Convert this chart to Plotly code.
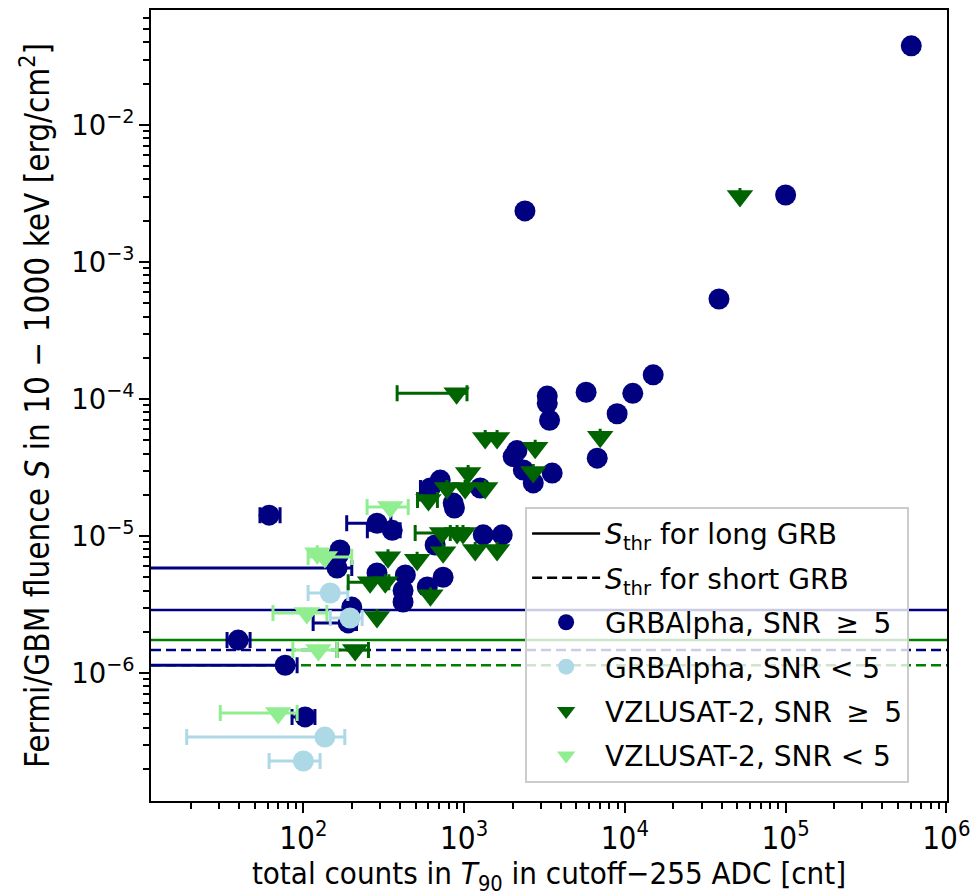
import plotly.graph_objects as go

# ---------------- data ----------------
# GRBAlpha, SNR >= 5
ga_hi_x = [6.05e5, 2390, 1.0e5, 3.85e4, 1.5e4, 1.12e4, 5740, 8950, 6730, 3290, 3290, 3400,
           3530, 2018, 2130, 2335, 2692, 710, 615, 855, 1260, 287, 357, 1315, 1726, 660,
           169, 165, 162, 287, 417, 200, 190, 39.3, 77, 102.5, 61.2, 590, 417, 431, 740, 870]
ga_hi_y = [3.78e-2, 2.36e-3, 3.08e-3, 5.37e-4, 1.50e-4, 1.1e-4, 1.12e-4, 7.8e-5, 3.7e-5, 1.05e-4, 9.3e-5, 7.0e-5,
           2.88e-5, 3.8e-5, 4.2e-5, 3.03e-5, 2.44e-5, 2.56e-5, 2.24e-5, 1.74e-5, 2.24e-5, 1.24e-5, 1.1e-5, 1.02e-5, 1.02e-5, 8.6e-6,
           7.9e-6, 7.26e-6, 5.83e-6, 5.37e-6, 3.3e-6, 3.03e-6, 2.32e-6, 1.74e-6, 1.14e-6, 4.78e-7, 1.42e-5, 4.25e-6, 4.0e-6,
           5.2e-6, 5.0e-6, 1.6e-5]
ga_hi_xlo = [6.05e5, 2390, 1.0e5, 3.85e4, 1.5e4, 1.12e4, 5740, 8950, 6730, 3290, 3290, 3400,
             3530, 2018, 2130, 2335, 2692, 710, 535, 855, 1260, 186, 250, 1315, 1726, 660,
             169, 165, 1.0, 287, 417, 200, 115, 33.5, 1.0, 85, 53.7, 590, 417, 431, 740, 870]
ga_hi_xhi = [6.05e5, 2390, 1.0e5, 3.85e4, 1.5e4, 1.12e4, 5740, 8950, 6730, 3290, 3290, 3400,
             3530, 2018, 2130, 2335, 2692, 710, 680, 855, 1260, 350, 400, 1315, 1726, 660,
             169, 165, 200, 287, 417, 200, 214, 46.6, 91.4, 118, 71.6, 590, 417, 431, 740, 870]

# GRBAlpha, SNR < 5
ga_lo_x = [147, 195, 136, 100]
ga_lo_y = [3.84e-6, 2.52e-6, 3.41e-7, 2.28e-7]
ga_lo_xlo = [107, 147, 18.8, 61.2]
ga_lo_xhi = [189, 232, 181, 127]

# VZLUSAT-2, SNR >= 5
vz_hi_x = [5.2e4, 7020, 898, 1352, 1603, 2767, 2692, 1059, 1352, 1014, 729, 904, 984,
           1172, 1603, 260, 323, 617, 287, 210, 600, 782, 336, 510, 740]
vz_hi_y = [3.03e-3, 5.3e-5, 1.1e-4, 5.2e-5, 5.2e-5, 4.4e-5, 2.93e-5, 2.88e-5, 2.24e-5, 2.24e-5, 1.05e-5, 1.05e-5, 1.05e-5,
           7.9e-6, 7.9e-6, 4.6e-6, 4.6e-6, 3.7e-6, 2.56e-6, 1.47e-6, 1.83e-5, 2.24e-5, 7.0e-6, 6.7e-6, 7.6e-6]
vz_hi_xlo = [5.2e4, 7020, 383, 1352, 1603, 2767, 2692, 1059, 1352, 1014, 496, 904, 984,
             1172, 1603, 190, 323, 617, 287, 162, 513, 782, 336, 510, 740]
vz_hi_xhi = [5.2e4, 7020, 1042, 1352, 1603, 2767, 2692, 1059, 1352, 1014, 820, 904, 984,
             1172, 1603, 340, 323, 617, 287, 254, 682, 782, 336, 510, 740]

# VZLUSAT-2, SNR < 5
vz_lo_x = [347, 122, 136, 105, 124, 69.7]
vz_lo_y = [1.63e-5, 7.5e-6, 7.03e-6, 2.74e-6, 1.47e-6, 5.1e-7]
vz_lo_xlo = [249, 122, 107, 64.7, 86, 30.4]
vz_lo_xhi = [449, 122, 200, 140, 162, 91.4]

# thresholds
thr_long = {"GRBAlpha": 2.88e-6, "VZLUSAT-2": 1.74e-6}
thr_short = {"GRBAlpha": 1.47e-6, "VZLUSAT-2": 1.14e-6}
thr_colors = {"GRBAlpha": "#000080", "VZLUSAT-2": "#008000"}

# ---------------- figure ----------------
fig = go.Figure()

FONT = "DejaVu Sans"
COND = "DejaVu Sans Condensed, Liberation Sans Narrow, DejaVu Sans"

for name, v in thr_long.items():
    fig.add_hline(y=v, line=dict(color=thr_colors[name], width=2.5, dash="solid"), layer="below")
for name, v in thr_short.items():
    fig.add_hline(y=v, line=dict(color=thr_colors[name], width=2.5, dash="10px,5px"), layer="below")

# legend-only entries for thresholds
fig.add_trace(go.Scatter(x=[None], y=[None], mode="lines", line=dict(color="black", width=2.5),
                         name="<i>S</i><sub>thr</sub> for long GRB", legendgroup="a"))
fig.add_trace(go.Scatter(x=[None], y=[None], mode="lines", line=dict(color="black", width=2.5, dash="10px,5px"),
                         name="<i>S</i><sub>thr</sub> for short GRB", legendgroup="b"))


def add_series(xs, ys, xlo, xhi, color, symbol, size, name, grp):
    plus = [h - x for x, h in zip(xs, xhi)]
    minus = [x - l for x, l in zip(xs, xlo)]
    fig.add_trace(go.Scatter(
        x=xs, y=ys, mode="markers", name=name, legendgroup=grp,
        marker=dict(color=color, symbol=symbol, size=size, line=dict(width=0)),
        error_x=dict(type="data", symmetric=False, array=plus, arrayminus=minus,
                     color=color, thickness=3, width=8),
    ))


add_series(ga_hi_x, ga_hi_y, ga_hi_xlo, ga_hi_xhi, "#000080", "circle", 21,
           "GRBAlpha, SNR \u2009\u2265\u2009 5", "c")
add_series(ga_lo_x, ga_lo_y, ga_lo_xlo, ga_lo_xhi, "#add8e6", "circle", 21,
           "GRBAlpha, SNR < 5", "d")
add_series(vz_hi_x, vz_hi_y, vz_hi_xlo, vz_hi_xhi, "#006400", "triangle-down", 23,
           "VZLUSAT-2, SNR \u2009\u2265\u2009 5", "e")
add_series(vz_lo_x, vz_lo_y, vz_lo_xlo, vz_lo_xhi, "#90ee90", "triangle-down", 23,
           "VZLUSAT-2, SNR < 5", "f")

axis_common = dict(
    type="log", showgrid=False, zeroline=False, showline=True, linecolor="black", linewidth=2,
    mirror=True, ticks="outside", ticklen=10, tickwidth=2, tickcolor="black",
    dtick=1, exponentformat="power", automargin=False,
    minor=dict(ticks="outside", ticklen=6, tickwidth=1.5, tickcolor="black", showgrid=False),
)

fig.update_xaxes(**axis_common, range=[1.052, 6.004],
                 tickfont=dict(family=COND, size=25, color="black"),
                 title=dict(text="total counts in <i>T</i><sub>90</sub> in cutoff\u2212255 ADC [cnt]",
                            font=dict(family=COND, size=31, color="black"), standoff=2))
fig.update_yaxes(**axis_common, range=[-6.934, -1.161],
                 tickfont=dict(family=FONT, size=22, color="black"),
                 title=dict(text="Fermi/GBM fluence <i>S</i> in 10 \u2212 1000 keV [erg/cm<sup>2</sup>]",
                            font=dict(family=COND, size=33, color="black"), standoff=12))

fig.update_layout(
    width=975, height=896,
    margin=dict(l=151, r=28, t=10, b=95),
    paper_bgcolor="white", plot_bgcolor="white",
    font=dict(family=FONT, size=22, color="black"),
    legend=dict(x=0.47, y=0.372, xanchor="left", yanchor="top",
                bgcolor="rgba(255,255,255,0.8)", bordercolor="#cccccc", borderwidth=2,
                font=dict(family=FONT, size=28, color="black"),
                tracegroupgap=5, itemwidth=68),
)

fig.write_html("out.html")
